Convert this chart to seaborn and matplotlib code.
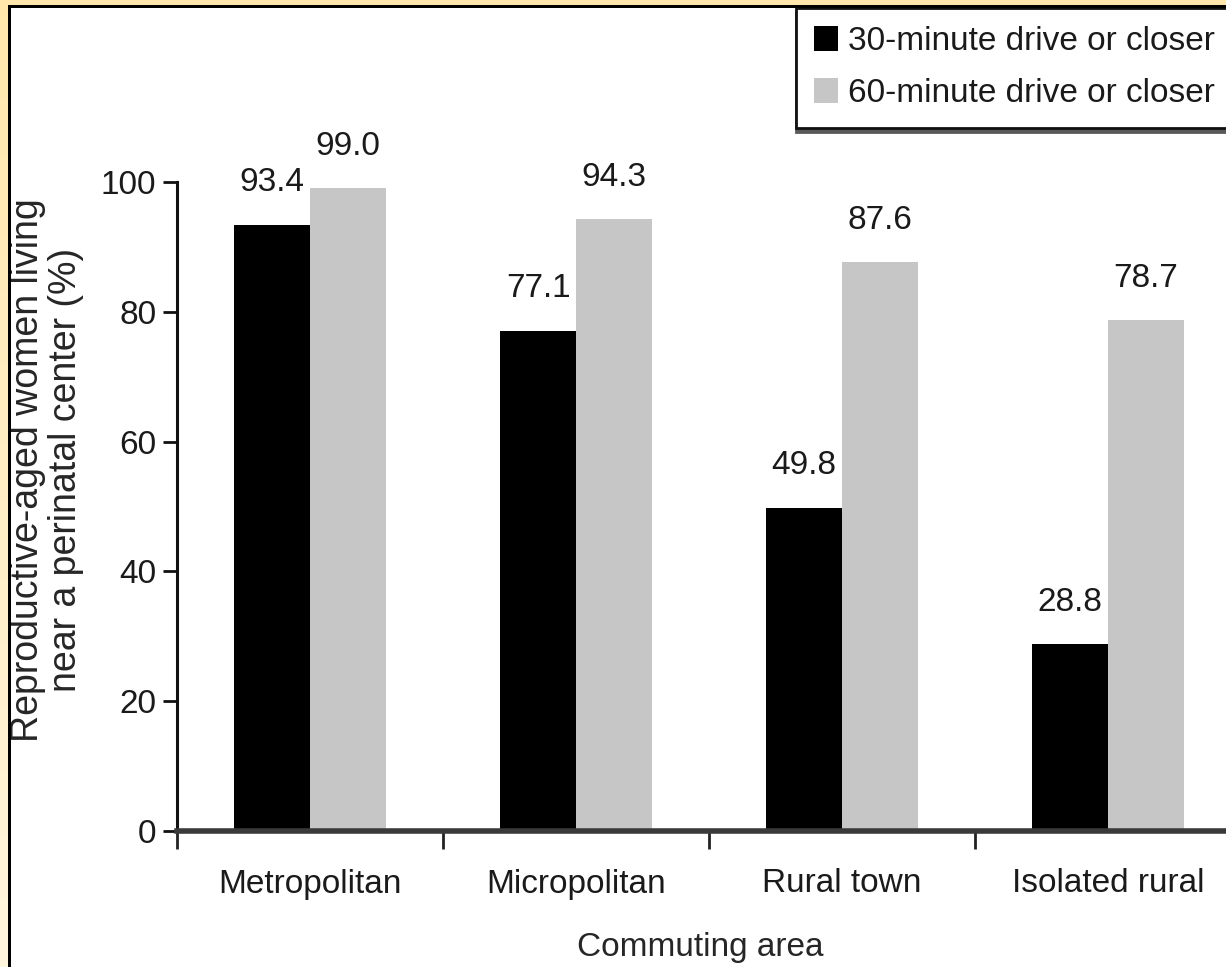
import numpy as np
import pandas as pd
import matplotlib
matplotlib.use("Agg")
import matplotlib.pyplot as plt
from matplotlib.patches import Rectangle
import seaborn as sns

# Data
areas = ["Metropolitan", "Micropolitan", "Rural town", "Isolated rural"]
drive_30 = [93.4, 77.1, 49.8, 28.8]
drive_60 = [99.0, 94.3, 87.6, 78.7]
series_names = ["30-minute drive or closer", "60-minute drive or closer"]
y_ticks = [0, 20, 40, 60, 80, 100]

df = pd.DataFrame({
    "area": areas * 2,
    "pct": drive_30 + drive_60,
    "distance": [series_names[0]] * len(areas) + [series_names[1]] * len(areas),
})

sns.set_style("white")
plt.rcParams["font.family"] = ["Liberation Sans", "DejaVu Sans"]
plt.rcParams["text.color"] = "#1a1a1a"

FS = 24
W, H = 1226, 967
fig = plt.figure(figsize=(W / 100, H / 100), dpi=100)
fig.patch.set_facecolor("white")

# axes: left edge at x=177px, 0 at y=831px, 100 at y=182px; extends past right edge
ax = fig.add_axes([177 / W, (H - 831) / H, 1064 / W, 649 / H])

sns.barplot(data=df, x="area", y="pct", hue="distance", order=areas,
            hue_order=series_names, palette=["#000000", "#c6c6c6"],
            saturation=1, width=0.57, ax=ax, edgecolor="none", linewidth=0)

ax.set_xlim(-0.5, 3.5)
ax.set_ylim(0, 100)

for cont in ax.containers:
    ax.bar_label(cont, fmt="%.1f", padding=19, fontsize=FS, color="#1a1a1a")

# spines
for s in ["top", "right"]:
    ax.spines[s].set_visible(False)
ax.spines["left"].set_linewidth(2.2)
ax.spines["left"].set_color("#111111")
ax.spines["bottom"].set_linewidth(4)
ax.spines["bottom"].set_color("#3a3a3a")

# y ticks
ax.set_yticks(y_ticks)
ax.set_yticklabels([str(v) for v in y_ticks])
ax.tick_params(axis="y", direction="out", length=10, width=2, color="#111111",
               labelsize=FS, labelcolor="#1a1a1a", pad=5, left=True)

# x: labels at category centres, tick marks at category boundaries
ax.set_xticks(range(len(areas)))
ax.set_xticklabels(areas)
ax.tick_params(axis="x", which="major", length=0, pad=27, labelsize=FS,
               labelcolor="#1a1a1a")
ax.set_xticks([-0.5, 0.5, 1.5, 2.5], minor=True)
ax.tick_params(axis="x", which="minor", direction="out", length=13, width=2,
               color="#222222", bottom=True)

ax.set_xlabel("Commuting area", fontsize=FS, va="top")
ax.xaxis.set_label_coords((700 - 177) / 1064, (831 - 932) / 649)
ax.set_ylabel("Reproductive-aged women living\nnear a perinatal center (%)",
              fontsize=27, va="center", ha="center", linespacing=1.1)
ax.yaxis.set_label_coords((47 - 177) / 1064, (831 - 470) / 649)

# legend
leg = ax.legend(loc="upper left", bbox_to_anchor=(796 / W, 1 - 8 / H),
                bbox_transform=fig.transFigure, frameon=True, fancybox=False,
                fontsize=FS, handlelength=0.7, handleheight=0.78,
                handletextpad=0.3, labelspacing=0.62, borderpad=0.55,
                borderaxespad=0, shadow={"color": "0.35", "alpha": 1, "ox": 0, "oy": -3})
leg.get_frame().set_edgecolor("#111111")
leg.get_frame().set_linewidth(2)
leg.get_frame().set_facecolor("white")

# outer border: pale yellow margin with a dark rule
grad = fig.add_axes([0, 0, 9 / W, 1], zorder=10)
g = np.linspace(0, 1, 256).reshape(-1, 1)
top_c = np.array([255, 231, 172]) / 255
bot_c = np.array([255, 246, 222]) / 255
img = (1 - g)[..., None] * top_c + g[..., None] * bot_c
grad.imshow(img, aspect="auto", extent=[0, 1, 0, 1], origin="upper")
grad.set_axis_off()
fig.add_artist(Rectangle((0, 1 - 5 / H), 1, 5 / H, transform=fig.transFigure,
                         facecolor=top_c, edgecolor="none", zorder=11))
fig.add_artist(Rectangle((8 / W, 1 - 8 / H), 1, 3 / H, transform=fig.transFigure,
                         facecolor="black", edgecolor="none", zorder=12))
fig.add_artist(Rectangle((8 / W, 0), 3 / W, 1 - 5 / H, transform=fig.transFigure,
                         facecolor="black", edgecolor="none", zorder=12))

fig.savefig("out.png", dpi=100)
